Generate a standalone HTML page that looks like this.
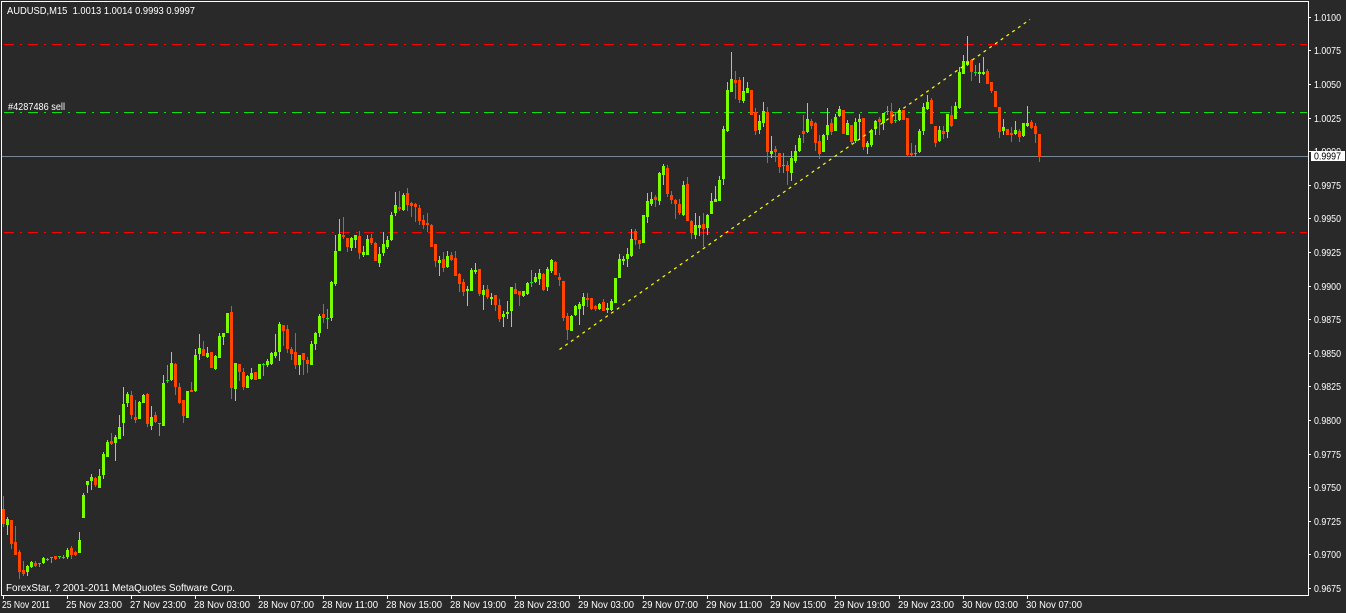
<!DOCTYPE html>
<html><head><meta charset="utf-8"><style>
html,body{margin:0;padding:0;background:#292929;width:1346px;height:613px;overflow:hidden}
svg{display:block}
text{font-family:"Liberation Sans","DejaVu Sans",sans-serif;fill:#fff;font-size:10.5px;white-space:pre}
</style></head><body>
<svg id="s" width="1346" height="613" viewBox="0 0 1346 613" xmlns="http://www.w3.org/2000/svg" shape-rendering="crispEdges" xml:space="preserve">
<rect x="0" y="0" width="1346" height="613" fill="#292929"/>
<g id="lines"></g>
<rect x="2" y="156" width="1306" height="1" fill="#778899"/>
<g id="candles"></g>
<line x1="559.5" y1="349.5" x2="1030" y2="19.5" stroke="#ffff00" stroke-width="1.2" stroke-dasharray="3 4" shape-rendering="auto"/>
<rect x="1.5" y="1.5" width="1307" height="594" fill="none" stroke="#ffffff" stroke-width="1"/>
<text x="7" y="14" textLength="188" lengthAdjust="spacingAndGlyphs">AUDUSD,M15  1.0013 1.0014 0.9993 0.9997</text>
<text x="8" y="110" textLength="57" lengthAdjust="spacingAndGlyphs">#4287486 sell</text>
<text x="6" y="591" textLength="229" lengthAdjust="spacingAndGlyphs">ForexStar, ? 2001-2011 MetaQuotes Software Corp.</text>
<g id="yax"></g>
<g id="xax"></g>
<rect x="1311" y="151" width="34" height="10" fill="#ffffff"/>
<text x="1314" y="159.5" textLength="27" lengthAdjust="spacingAndGlyphs" style="fill:#000">0.9997</text>
</svg>
<script>
var NS="http://www.w3.org/2000/svg";
function el(t,a,p){var e=document.createElementNS(NS,t);for(var k in a)e.setAttribute(k,a[k]);p.appendChild(e);return e;}
var lg=document.getElementById("lines");
function dd(y,color){
  for(var x=4;x<1307;x+=24){
    el("rect",{x:x,y:y,width:Math.min(10,1307-x),height:1,fill:color},lg);
    if(x+16<1307) el("rect",{x:x+16,y:y,width:2,height:1,fill:color},lg);
  }
}
dd(44,"#ff0000");dd(232,"#ff0000");dd(112,"#10e010");
var S="r,509,524,496,527;g,519,525,517,535;r,520,544,520,549;r,542,555,526,555;r,552,572,550,579;r,570,574,561,576;g,566,572,565,576;g,562,567,561,568;r,563,566,561,567;d,563,564,563,567;g,558,563,557,564;d,559,560,558,561;d,557,558,557,563;r,556,559,556,560;d,556,557,556,559;d,557,558,555,559;g,550,557,548,559;r,548,555,546,559;r,552,555,551,556;g,540,553,532,553;g,495,518,493,518;g,481,485,481,493;g,477,481,474,490;r,478,485,477,487;g,476,488,469,488;g,454,475,452,479;g,442,457,440,457;r,441,444,433,445;g,437,443,435,461;g,427,439,415,439;g,404,423,387,436;g,394,403,392,407;r,395,415,391,419;r,417,420,400,423;g,402,419,401,419;g,395,403,394,403;r,394,424,393,427;g,417,426,406,430;r,415,422,412,423;d,423,424,423,436;g,383,426,375,426;d,380,381,365,383;g,363,380,352,381;r,364,387,363,395;r,387,403,383,404;r,400,416,400,423;g,391,418,391,418;r,390,392,382,392;g,355,391,349,392;g,348,354,334,360;r,349,356,341,356;g,353,357,347,358;r,352,368,352,368;g,356,369,355,370;g,336,358,333,358;g,333,337,333,345;g,313,333,313,333;r,312,388,306,399;g,363,389,363,401;r,364,372,364,381;r,372,387,368,390;g,376,388,375,388;g,373,379,368,380;r,372,380,372,380;g,364,379,364,379;d,364,365,363,376;g,361,365,359,367;g,353,364,352,365;g,352,356,334,358;g,324,352,322,361;r,325,331,325,346;r,329,349,325,353;r,349,354,347,360;r,352,365,333,369;g,355,365,355,375;r,353,360,353,375;r,360,364,357,373;g,344,365,341,365;g,333,344,332,350;g,316,333,314,337;r,314,318,304,323;d,318,319,309,329;g,282,318,281,321;g,251,284,235,286;g,234,251,219,251;r,235,237,217,239;r,238,247,238,252;g,238,248,237,251;g,235,240,235,248;r,236,253,231,259;g,252,255,246,257;g,239,255,235,255;r,238,243,234,245;r,243,261,242,261;g,254,263,247,267;g,244,253,232,256;g,240,247,236,249;g,215,240,212,241;g,205,213,192,216;r,207,209,191,211;g,195,210,193,211;r,193,205,188,211;r,203,206,202,217;r,204,207,203,222;r,208,221,205,225;r,220,225,215,229;r,223,225,213,232;r,225,247,224,247;r,244,261,244,267;g,260,263,256,276;r,259,268,252,272;g,256,267,251,268;r,255,260,252,261;r,258,276,251,276;r,274,284,273,292;r,282,292,279,296;g,289,291,286,306;g,270,291,268,291;g,270,272,263,274;r,269,294,269,296;g,290,295,285,310;r,289,297,285,299;g,297,299,293,305;r,295,305,295,311;r,305,319,299,322;g,314,317,311,327;g,312,314,301,319;g,287,311,287,327;r,289,294,283,294;r,291,295,291,306;g,291,296,291,297;g,283,294,282,295;d,282,283,270,287;g,277,282,273,283;g,273,279,269,285;r,274,290,273,291;g,269,287,267,291;g,260,271,259,273;r,262,275,261,275;r,277,280,273,286;r,281,318,281,321;r,316,330,313,340;g,316,331,315,331;g,306,315,305,316;g,304,309,302,325;g,297,306,293,315;r,298,300,293,307;r,298,309,298,310;r,306,309,305,311;g,304,309,303,310;r,302,311,299,311;g,308,310,303,313;g,301,310,299,311;g,278,303,278,303;g,259,278,254,278;g,259,261,256,265;g,254,259,248,267;g,239,256,229,257;r,231,240,229,245;r,240,244,240,249;g,215,243,215,243;g,201,217,193,223;g,199,204,192,206;r,197,200,195,207;g,173,201,172,205;g,166,175,164,185;r,168,194,165,197;r,195,200,191,204;r,200,204,199,219;r,204,213,199,215;g,185,215,181,216;r,184,221,177,221;r,221,233,220,239;g,225,235,213,239;g,225,228,216,236;r,224,229,213,247;g,215,228,214,235;g,201,214,193,214;g,199,202,186,202;g,180,201,176,201;g,129,179,126,185;g,90,131,82,132;g,79,92,52,92;r,80,83,71,99;r,80,100,77,103;g,91,101,77,103;g,88,93,82,93;r,90,115,90,115;r,112,131,108,135;g,121,130,115,134;g,111,123,102,127;r,112,152,107,163;g,151,154,136,158;r,149,152,146,162;r,153,167,153,173;d,165,166,153,173;r,165,171,161,185;g,158,173,151,181;g,151,161,145,163;g,138,151,135,152;r,131,134,115,143;g,119,132,103,133;r,121,126,119,129;r,123,143,122,151;r,141,154,135,159;g,135,152,134,152;g,125,135,108,140;r,123,132,119,135;g,117,131,114,131;g,109,116,106,117;r,110,134,110,134;g,123,135,120,135;r,125,142,125,144;g,122,141,118,143;g,119,122,114,140;r,118,147,118,150;g,143,147,141,154;g,130,145,129,147;g,121,129,120,135;r,119,122,117,135;g,113,123,113,130;d,111,112,106,115;r,111,123,103,124;d,120,121,113,123;g,110,120,108,121;r,110,120,110,120;r,118,155,118,157;r,153,155,143,156;d,153,154,145,157;g,131,152,129,153;g,107,131,103,135;g,102,109,95,110;r,100,124,98,124;r,126,143,126,147;g,130,141,126,142;r,131,134,126,139;g,114,132,114,138;r,115,126,106,127;g,106,119,102,119;g,72,108,67,109;g,61,74,55,74;g,61,65,36,66;r,60,72,59,81;d,72,73,65,76;g,72,74,63,83;g,72,74,57,75;r,71,84,69,84;r,82,91,82,93;r,91,107,91,107;r,107,132,107,138;g,127,131,119,135;r,129,135,129,135;r,133,135,127,142;g,130,134,121,135;r,131,137,129,142;g,123,136,123,137;g,123,126,106,127;r,122,128,120,129;r,126,134,123,143;r,134,157,134,162";
var col={g:"#7cfc00",r:"#ff4500",d:"#1ee01e"};
var cg=document.getElementById("candles");
S.split(";").forEach(function(s,i){
  var p=s.split(","),c=3+4*i,k=p[0],bt=+p[1],bb=+p[2],wt=+p[3],wb=+p[4];
  var f=col[k];
  el("rect",{x:c,y:wt,width:1,height:Math.max(1,wb-wt),fill:f},cg);
  el("rect",{x:c-1,y:bt,width:3,height:Math.max(1,bb-bt),fill:f},cg);
});
var ya=document.getElementById("yax");
var labs=["1.0100","1.0075","1.0050","1.0025","1.0000","0.9975","0.9950","0.9925","0.9900","0.9875","0.9850","0.9825","0.9800","0.9775","0.9750","0.9725","0.9700","0.9675"];
labs.forEach(function(l,k){
  var y=16.7+33.6*k,py=Math.round(y);
  el("rect",{x:1309,y:py,width:2,height:1,fill:"#fff"},ya);
  var t=el("text",{x:1314,y:(py+4),textLength:27,lengthAdjust:"spacingAndGlyphs"},ya);
  t.textContent=l;
});
var xa=document.getElementById("xax");
var xl=["25 Nov 2011","25 Nov 23:00","27 Nov 23:00","28 Nov 03:00","28 Nov 07:00","28 Nov 11:00","28 Nov 15:00","28 Nov 19:00","28 Nov 23:00","29 Nov 03:00","29 Nov 07:00","29 Nov 11:00","29 Nov 15:00","29 Nov 19:00","29 Nov 23:00","30 Nov 03:00","30 Nov 07:00"];
xl.forEach(function(l,k){
  var x=3+64*k;
  el("rect",{x:x,y:596,width:1,height:3,fill:"#fff"},xa);
  var t=el("text",{x:x-1,y:608,textLength:(k==0?48:56),lengthAdjust:"spacingAndGlyphs"},xa);
  t.textContent=l;
});
</script>
</body></html>
